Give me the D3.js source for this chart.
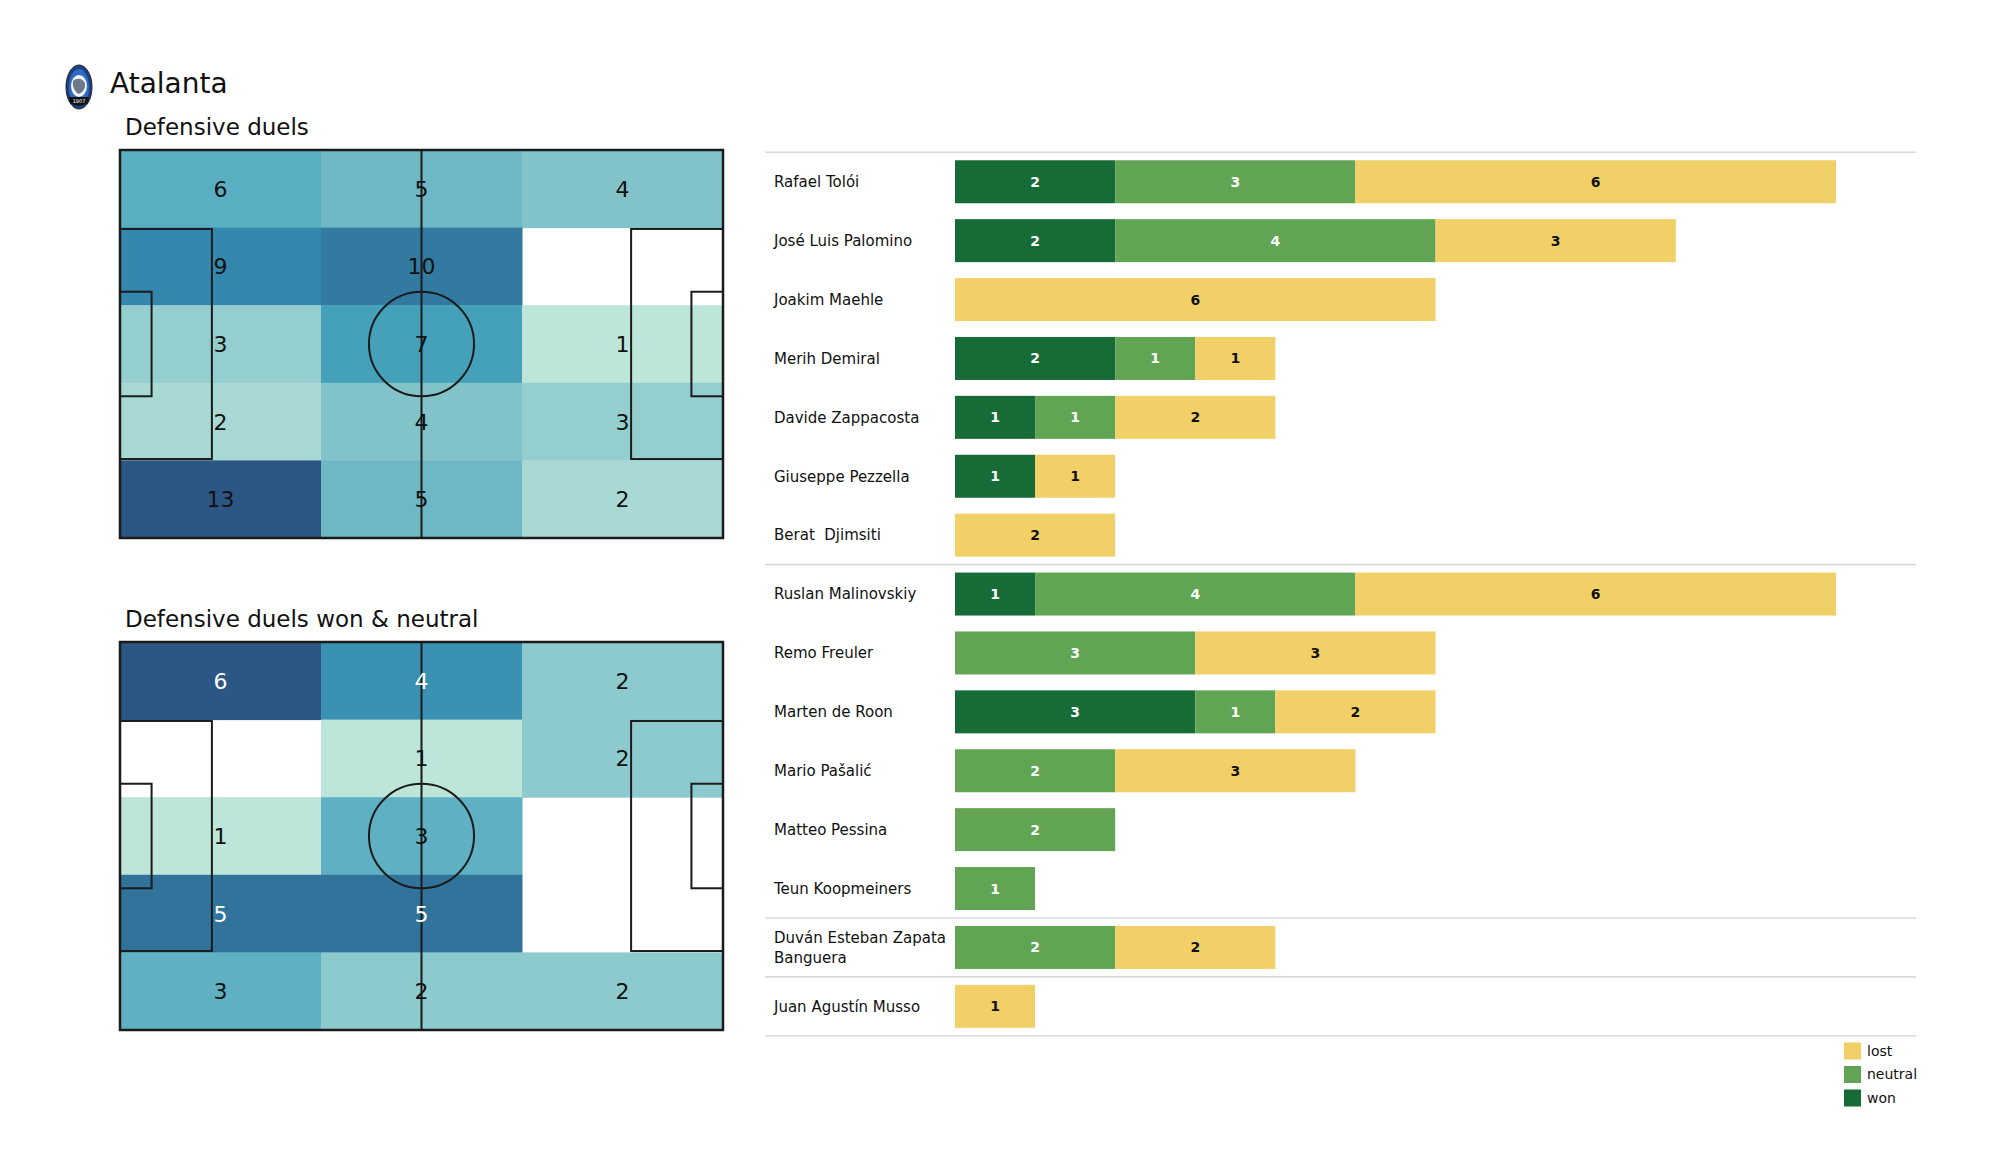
<!DOCTYPE html>
<html><head><meta charset="utf-8">
<script src="https://cdn.jsdelivr.net/npm/d3@7"></script>
<style>
body{margin:0;background:#fff;}
svg{display:block;font-family:"DejaVu Sans",sans-serif;}
</style>
</head><body>
<svg id="c" width="2000" height="1175"></svg>
<script>
// ---------------- DATA ----------------
const teamName = "Atalanta";
const heatTitles = ["Defensive duels", "Defensive duels won & neutral"];
// zones: 5 rows (top to bottom) x 3 columns (left to right)
const heatAllDuels = [
  [6, 5, 4],
  [9, 10, 0],
  [3, 7, 1],
  [2, 4, 3],
  [13, 5, 2]
];
const heatWonNeutral = [
  [6, 4, 2],
  [0, 1, 2],
  [1, 3, 0],
  [5, 5, 0],
  [3, 2, 2]
];
const players = [
  "Rafael Tolói", "José Luis Palomino", "Joakim Maehle", "Merih Demiral",
  "Davide Zappacosta", "Giuseppe Pezzella", "Berat  Djimsiti",
  "Ruslan Malinovskiy", "Remo Freuler", "Marten de Roon", "Mario Pašalić",
  "Matteo Pessina", "Teun Koopmeiners",
  "Duván Esteban Zapata Banguera",
  "Juan Agustín Musso"
];
const positionGroup = ["DEF","DEF","DEF","DEF","DEF","DEF","DEF",
  "MID","MID","MID","MID","MID","MID","FWD","GK"];
const wonValues     = [2, 2, 0, 2, 1, 1, 0, 1, 0, 3, 0, 0, 0, 0, 0];
const neutralValues = [3, 4, 0, 1, 1, 0, 0, 4, 3, 1, 2, 2, 1, 2, 0];
const lostValues    = [6, 3, 6, 1, 2, 1, 2, 6, 3, 2, 3, 0, 0, 2, 1];
const seriesKeys = ["won", "neutral", "lost"];
const legendOrder = ["lost", "neutral", "won"];

// ---------------- STYLE ----------------
const FONT = '"DejaVu Sans", sans-serif';
const seriesColor = {won: "#176b37", neutral: "#61a554", lost: "#f1d067"};
const seriesText = {won: "#ffffff", neutral: "#ffffff", lost: "#111111"};
const heatStops = [
  [0, "#bde5da"], [0.083, "#a9d9d5"], [0.167, "#95cecf"], [0.25, "#81c3c9"],
  [0.333, "#6eb8c5"], [0.417, "#5aaec1"], [0.5, "#45a1ba"], [0.667, "#3587ad"],
  [0.75, "#327aa0"], [1, "#2c5784"]
];
const heatColor = d3.scaleLinear()
  .domain(heatStops.map(d => d[0])).range(heatStops.map(d => d[1]))
  .interpolate(d3.interpolateRgb).clamp(true);

const svg = d3.select("#c");

// ---------------- HEADER ----------------
const logo = svg.append("g").attr("transform", "translate(79,87)");
logo.append("ellipse").attr("rx", 13).attr("ry", 22).attr("fill", "#1e3f86").attr("stroke", "#222").attr("stroke-width", 1);
logo.append("ellipse").attr("rx", 10).attr("ry", 18).attr("fill", "#2f6cc0");
logo.append("ellipse").attr("cy", -1).attr("rx", 8).attr("ry", 11).attr("fill", "#f1f4f8");
logo.append("path").attr("d", "M-6,-6 C-2,-10 5,-8 6,-3 C7,2 3,6 -1,7 C-4,4 -7,0 -6,-6Z").attr("fill", "#6b7a8a");
logo.append("path").attr("d", "M-10,10 L10,10 L9,15 C6,20 -6,20 -9,15Z").attr("fill", "#111");
logo.append("text").attr("y", 16).attr("text-anchor", "middle").attr("font-size", 5).attr("fill", "#fff")
  .attr("font-family", FONT).text("1907");

svg.append("text").attr("x", 110).attr("y", 93).attr("font-size", 28).attr("font-family", FONT)
  .attr("fill", "#111").text(teamName);

// ---------------- PITCH HEATMAPS ----------------
const PL = 105, PW = 68;
function drawPitch(top, height, data, title, whiteTextMin) {
  const g = svg.append("g");
  g.append("text").attr("x", 125).attr("y", top - 15).attr("font-size", 23).attr("font-family", FONT)
    .attr("fill", "#111").text(title);
  const x = d3.scaleLinear().domain([0, PL]).range([120, 723]);
  const y = d3.scaleLinear().domain([0, PW]).range([top, top + height]);
  const nRows = data.length, nCols = data[0].length;
  const zx = d3.scaleBand().domain(d3.range(nCols)).range([x(0), x(PL)]);
  const zy = d3.scaleBand().domain(d3.range(nRows)).range([y(0), y(PW)]);
  const cells = [];
  data.forEach((row, r) => row.forEach((v, c) => cells.push({r, c, v})));
  const nz = cells.map(d => d.v).filter(v => v > 0);
  const mn = d3.min(nz), mx = d3.max(nz);
  const tScale = d3.scaleLinear().domain([mn, mx]).range([0, 1]);
  g.selectAll("rect.cell").data(cells.filter(d => d.v > 0)).join("rect")
    .attr("x", d => zx(d.c)).attr("y", d => zy(d.r))
    .attr("width", zx.bandwidth() + 0.5).attr("height", zy.bandwidth() + 0.5)
    .attr("fill", d => heatColor(tScale(d.v)));
  // pitch lines
  const lc = "#1b1b1b";
  const lines = g.append("g").attr("fill", "none").attr("stroke", lc).attr("stroke-width", 2);
  lines.append("rect").attr("x", x(0)).attr("y", y(0)).attr("width", x(PL) - x(0)).attr("height", y(PW) - y(0))
    .attr("stroke-width", 2.5);
  lines.append("line").attr("x1", x(PL / 2)).attr("x2", x(PL / 2)).attr("y1", y(0)).attr("y2", y(PW));
  lines.append("ellipse").attr("cx", x(PL / 2)).attr("cy", y(PW / 2))
    .attr("rx", x(9.15) - x(0)).attr("ry", y(9.15) - y(0));
  const boxes = [[16, 40.32], [5.5, 18.32]];
  boxes.forEach(([d, w]) => {
    lines.append("rect").attr("x", x(0)).attr("y", y((PW - w) / 2))
      .attr("width", x(d) - x(0)).attr("height", y((PW + w) / 2) - y((PW - w) / 2));
    lines.append("rect").attr("x", x(PL - d)).attr("y", y((PW - w) / 2))
      .attr("width", x(PL) - x(PL - d)).attr("height", y((PW + w) / 2) - y((PW - w) / 2));
  });
  // labels
  g.selectAll("text.val").data(cells.filter(d => d.v > 0)).join("text")
    .attr("x", d => zx(d.c) + zx.bandwidth() / 2)
    .attr("y", d => zy(d.r) + zy.bandwidth() / 2)
    .attr("dy", "0.36em").attr("text-anchor", "middle")
    .attr("font-size", 22).attr("font-family", FONT)
    .attr("fill", d => d.v >= whiteTextMin ? "#ffffff" : "#111111")
    .text(d => d.v);
}
drawPitch(150, 388, heatAllDuels, heatTitles[0], Infinity);
drawPitch(642, 388, heatWonNeutral, heatTitles[1], 4);

// ---------------- STACKED BARS ----------------
const rows = players.map((p, i) => ({player: p, group: positionGroup[i],
  won: wonValues[i], neutral: neutralValues[i], lost: lostValues[i]}));
const totals = rows.map(d => d.won + d.neutral + d.lost);
const xB = d3.scaleLinear().domain([0, d3.max(totals)]).range([955, 1836]);
const yB = d3.scaleBand().domain(players).range([152.3, 1035.8]).paddingInner(0.27).paddingOuter(0.135);
const step = yB.step();
const rowStart = p => yB(p) - step * 0.135;

const bars = svg.append("g");
// separators
const sepY = [rowStart(players[0])];
rows.forEach((d, i) => {
  if (i > 0 && d.group !== rows[i - 1].group) sepY.push(rowStart(d.player));
});
sepY.push(rowStart(players[players.length - 1]) + step);
bars.selectAll("line.sep").data(sepY).join("line")
  .attr("x1", 765).attr("x2", 1916).attr("y1", d => d).attr("y2", d => d)
  .attr("stroke", "#d9d9d9").attr("stroke-width", 1.6);

const stack = d3.stack().keys(seriesKeys)(rows);
stack.forEach(layer => {
  const key = layer.key;
  const gl = bars.append("g");
  const segs = layer.filter(s => s.data[key] > 0);
  gl.selectAll("rect").data(segs).join("rect")
    .attr("x", s => xB(s[0])).attr("width", s => xB(s[1]) - xB(s[0]))
    .attr("y", s => yB(s.data.player)).attr("height", yB.bandwidth())
    .attr("fill", seriesColor[key]);
  gl.selectAll("text").data(segs).join("text")
    .attr("x", s => (xB(s[0]) + xB(s[1])) / 2)
    .attr("y", s => yB(s.data.player) + yB.bandwidth() / 2)
    .attr("dy", "0.36em").attr("text-anchor", "middle")
    .attr("font-size", 14).attr("font-weight", "bold").attr("font-family", FONT)
    .attr("fill", seriesText[key])
    .text(s => s.data[key]);
});

// player labels (wrapped)
const labels = bars.selectAll("text.lab").data(rows).join("text")
  .attr("class", "lab")
  .attr("x", 774).attr("font-size", 15).attr("font-family", FONT).attr("fill", "#111");
labels.each(function(d) {
  const t = d3.select(this);
  const words = d.player.split(" ");
  const lines = [];
  let cur = "";
  const probe = t.append("tspan");
  words.forEach((w, i) => {
    const test = cur === "" ? w : cur + " " + w;
    probe.text(test);
    if (probe.node().getComputedTextLength() > 180 && cur !== "") {
      lines.push(cur); cur = w;
    } else cur = test;
  });
  lines.push(cur);
  probe.remove();
  const cy = yB(d.player) + yB.bandwidth() / 2;
  const lh = 20;
  lines.forEach((ln, i) => {
    t.append("tspan").attr("x", 774)
      .attr("y", cy + (i - (lines.length - 1) / 2) * lh)
      .attr("dy", "0.35em")
      .attr("xml:space", "preserve")
      .text(ln);
  });
});
labels.attr("style", "white-space:pre");

// legend
const leg = svg.append("g");
legendOrder.forEach((k, i) => {
  const cy = 1051 + i * 23.5;
  leg.append("rect").attr("x", 1844).attr("y", cy - 8.5).attr("width", 17).attr("height", 17)
    .attr("fill", seriesColor[k]);
  leg.append("text").attr("x", 1867).attr("y", cy).attr("dy", "0.35em")
    .attr("font-size", 14).attr("font-family", FONT).attr("fill", "#111").text(k);
});
</script>
</body></html>
